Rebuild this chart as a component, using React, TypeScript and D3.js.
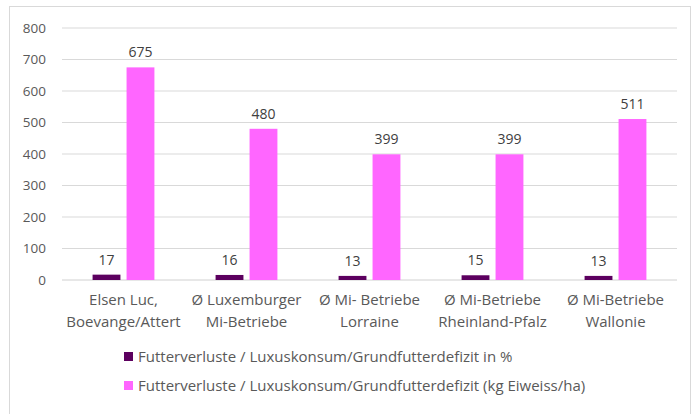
import React from "react";
import * as d3 from "d3";

const categories = [
  ["Elsen Luc,", "Boevange/Attert"],
  ["Ø Luxemburger", "Mi-Betriebe"],
  ["Ø Mi- Betriebe", "Lorraine"],
  ["Ø Mi-Betriebe", "Rheinland-Pfalz"],
  ["Ø Mi-Betriebe", "Wallonie"],
];
const seriesNames = [
  "Futterverluste / Luxuskonsum/Grundfutterdefizit in %",
  "Futterverluste / Luxuskonsum/Grundfutterdefizit (kg Eiweiss/ha)",
];
const percentValues = [17, 16, 13, 15, 13];
const proteinValues = [675, 480, 399, 399, 511];
const yTicks = [0, 100, 200, 300, 400, 500, 600, 700, 800];
const colors = ["#5c005f", "#ff66ff"];

const W = 699, H = 414;
const FONT = "'Open Sans', sans-serif";

export default function App() {
  const keys = categories.map((c) => c.join(" "));
  const x0 = d3.scaleBand().domain(keys).range([62, 677]);
  const x1 = d3.scaleBand().domain(["0", "1"]).range([0, x0.bandwidth()])
    .paddingInner(0.18).paddingOuter(0.9);
  const y = d3.scaleLinear().domain([0, 800]).range([280, 28]);
  const series = [percentValues, proteinValues];

  return (
    <svg width={W} height={H} style={{ position: "absolute", left: 0, top: 0 }} fontFamily={FONT}>
      <rect x={0} y={0} width={W} height={H} fill="#fff" />
      <rect x={9.5} y={6.5} width={681} height={420} fill="none" stroke="#d9d9d9" />
      {yTicks.map((t) => (
        <g key={t}>
          <line x1={62} x2={677} y1={y(t)} y2={y(t)} stroke={t === 0 ? "#d0d0d0" : "#d9d9d9"} />
          <text x={46} y={y(t)} dy="0.35em" textAnchor="end" fontSize={13.5} fill="#595959">{t}</text>
        </g>
      ))}
      {keys.map((k, i) => (
        <g key={k} transform={`translate(${x0(k)},0)`}>
          {series.map((vals, s) => {
            const bx = x1(String(s))!;
            return (
              <g key={s}>
                <rect x={bx} y={y(vals[i])} width={x1.bandwidth()} height={280 - y(vals[i])} fill={colors[s]} />
                <text x={bx + x1.bandwidth() / 2} y={y(vals[i]) - 10} textAnchor="middle" fontSize={14} fill="#404040">{vals[i]}</text>
              </g>
            );
          })}
          {categories[i].map((line, j) => (
            <text key={j} x={x0.bandwidth() / 2} y={305 + j * 22} textAnchor="middle" fontSize={15} fill="#595959">{line}</text>
          ))}
        </g>
      ))}
      {seriesNames.map((n, s) => (
        <g key={n} transform={`translate(124,${357 + s * 29})`}>
          <rect x={0} y={-5} width={9} height={9} fill={colors[s]} />
          <text x={14} y={0} dy="0.35em" fontSize={15} fill="#595959">{n}</text>
        </g>
      ))}
    </svg>
  );
}
